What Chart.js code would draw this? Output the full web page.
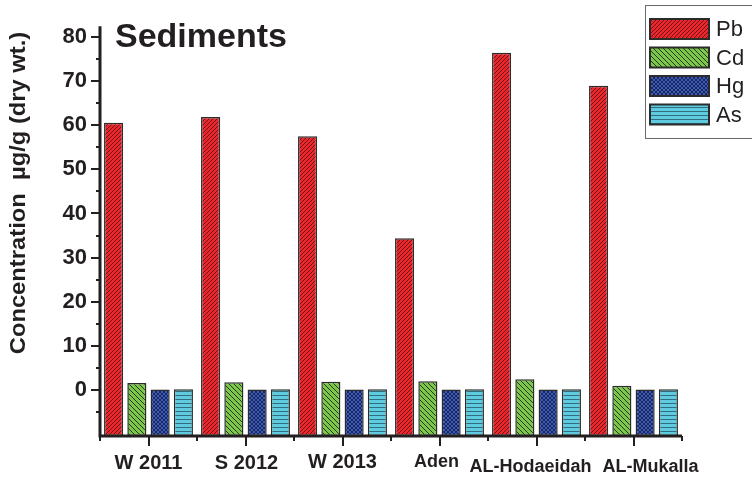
<!DOCTYPE html>
<html>
<head>
<meta charset="utf-8">
<script src="https://cdn.jsdelivr.net/npm/chart.js@4/dist/chart.umd.min.js"></script>
<style>
  html, body { margin: 0; padding: 0; background: #fff; }
  #wrap { width: 752px; height: 479px; }
</style>
</head>
<body>
<div id="wrap"><canvas id="c" width="752" height="479"></canvas></div>
<script>
// Heavy-metal concentrations in sediments, µg/g dry weight
const categories = ['W 2011', 'S 2012', 'W 2013', 'Aden', 'AL-Hodaeidah', 'AL-Mukalla'];
const seriesNames = ['Pb', 'Cd', 'Hg', 'As'];
const pbValues = [60.6, 61.9, 57.5, 34.4, 76.5, 69.0];
const cdValues = [1.5, 1.7, 1.8, 1.9, 2.4, 0.9];
const hgValues = [0.03, 0.03, 0.03, 0.03, 0.03, 0.03];
const asValues = [0.1, 0.1, 0.1, 0.1, 0.1, 0.1];
const yTickLabels = [0, 10, 20, 30, 40, 50, 60, 70, 80];

const Y_MIN = -10.5, Y_MAX = 82.5;
const FONT = "'Liberation Sans', Arial, Helvetica, sans-serif";
const INK = '#231f20';

// category label tweaks (horizontal nudge px, baseline below axis px, font size px)
const labelNudge = [0, 1, 0, -3, -6, 17];
const labelDrop = [33, 33, 32, 31, 36, 36];
const labelSize = [20, 20, 20, 18, 18, 18];

const canvas = document.getElementById('c');
const ctx = canvas.getContext('2d');

function makeTile(size, bg, paint) {
  const t = document.createElement('canvas');
  t.width = t.height = size;
  const g = t.getContext('2d');
  g.fillStyle = bg;
  g.fillRect(0, 0, size, size);
  paint(g, size);
  return ctx.createPattern(t, 'repeat');
}
function diag(g, s, up, color, w) {
  g.strokeStyle = color; g.lineWidth = w; g.beginPath();
  for (const k of [-s, 0, s]) {
    if (up) { g.moveTo(k, s); g.lineTo(k + s, 0); }
    else { g.moveTo(k, 0); g.lineTo(k + s, s); }
  }
  g.stroke();
}
const pbFill = makeTile(4, '#f0242a', (g, s) => diag(g, s, true, '#3a1a1a', 0.8));
const cdFill = makeTile(5, '#7cc64a', (g, s) => diag(g, s, false, '#22301a', 0.95));
const hgFill = makeTile(4, '#3a5cc0', (g, s) => { diag(g, s, true, '#19214a', 0.9); diag(g, s, false, '#19214a', 0.9); });
const asFill = makeTile(4, '#5ecbe0', (g, s) => { g.fillStyle = '#2f6e7a'; g.fillRect(0, 3, s, 1); });

const fills = [pbFill, cdFill, hgFill, asFill];
const values = [pbValues, cdValues, hgValues, asValues];

const datasets = seriesNames.map((name, i) => ({
  label: name,
  data: values[i],
  backgroundColor: fills[i],
  borderColor: '#2b2b2b',
  borderWidth: 1.5,
  borderSkipped: false,
  base: Y_MIN,
  categoryPercentage: 0.96,
  barPercentage: 0.82
}));

// axis lines, tick marks, category labels, titles and legend
const decor = {
  id: 'decor',
  afterDatasetsDraw(chart) {
    const c = chart.ctx;
    const a = chart.chartArea;
    const x = chart.scales.x, y = chart.scales.y;
    c.save();
    c.strokeStyle = INK;
    c.lineCap = 'butt';
    // axis lines
    c.lineWidth = 3;
    c.beginPath();
    c.moveTo(a.left, a.top); c.lineTo(a.left, a.bottom + 1.5);
    c.moveTo(a.left - 1.5, a.bottom); c.lineTo(a.right, a.bottom);
    c.stroke();
    // y ticks
    c.lineWidth = 2;
    c.beginPath();
    for (let v = -5; v <= 80; v += 5) {
      const py = Math.round(y.getPixelForValue(v));
      const len = v % 10 === 0 ? 9 : 4;
      c.moveTo(a.left - len, py); c.lineTo(a.left, py);
    }
    // x ticks: long at category centres, short at boundaries
    const n = categories.length;
    const step = (a.right - a.left) / n;
    for (let i = 0; i < n; i++) {
      const px = Math.round(x.getPixelForValue(i));
      c.moveTo(px, a.bottom); c.lineTo(px, a.bottom + 10);
    }
    for (let i = 0; i <= n; i++) {
      const px = Math.round(a.left + i * step);
      c.moveTo(px, a.bottom); c.lineTo(px, a.bottom + 5);
    }
    c.stroke();

    // category labels
    c.fillStyle = INK;
    c.textAlign = 'center';
    c.textBaseline = 'alphabetic';
    categories.forEach((lab, i) => {
      c.font = 'bold ' + labelSize[i] + 'px ' + FONT;
      c.fillText(lab, x.getPixelForValue(i) + labelNudge[i], a.bottom + labelDrop[i]);
    });

    // panel title
    c.textAlign = 'left';
    c.font = 'bold 34px ' + FONT;
    c.fillText('Sediments', 115, 47);

    // value-axis title
    c.save();
    c.translate(25, 193);
    c.rotate(-Math.PI / 2);
    c.scale(1.08, 1);
    c.textAlign = 'center';
    c.textBaseline = 'alphabetic';
    c.font = 'bold 22px ' + FONT;
    c.fillText('Concentration  \u00b5g/g (dry wt.)', 0, 0);
    c.restore();

    // legend
    c.lineWidth = 1;
    c.strokeStyle = '#6a6a6a';
    c.strokeRect(645.5, 5.5, 120, 133);
    chart.data.datasets.forEach((ds, i) => {
      const top = 19 + i * 28.5;
      c.fillStyle = ds.backgroundColor;
      c.fillRect(650, top, 59, 20);
      c.lineWidth = 2;
      c.strokeStyle = '#2b2b2b';
      c.strokeRect(650, top, 59, 20);
      c.fillStyle = INK;
      c.font = '22px ' + FONT;
      c.textBaseline = 'middle';
      c.fillText(ds.label, 716, top + 11);
    });
    c.restore();
  }
};

new Chart(ctx, {
  type: 'bar',
  data: { labels: categories, datasets },
  options: {
    responsive: false,
    animation: false,
    layout: { padding: { left: 0, right: 70, top: 5, bottom: 0 } },
    plugins: { legend: { display: false }, tooltip: { enabled: false } },
    scales: {
      x: {
        offset: true,
        grid: { display: false, drawTicks: false },
        border: { display: false },
        ticks: { display: false },
        afterFit(s) { s.height = 43; }
      },
      y: {
        min: Y_MIN,
        max: Y_MAX,
        grid: { display: false, drawTicks: false },
        border: { display: false },
        afterBuildTicks(s) { s.ticks = yTickLabels.map(v => ({ value: v })); },
        afterFit(s) { s.width = 100; },
        ticks: {
          padding: 13,
          color: INK,
          font: { family: FONT, size: 22, weight: 'bold' },
          callback: v => String(v)
        }
      }
    }
  },
  plugins: [decor]
});
</script>
</body>
</html>
